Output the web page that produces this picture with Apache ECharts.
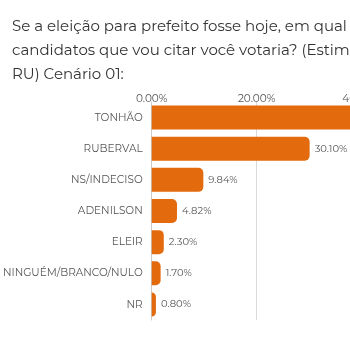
<!DOCTYPE html>
<html>
<head>
<meta charset="utf-8">
<script src="https://cdn.jsdelivr.net/npm/echarts@6/dist/echarts.min.js"></script>
<style>
  html, body { margin: 0; padding: 0; width: 350px; height: 350px; overflow: hidden; background: #fff; }
  #chart { width: 700px; height: 350px; }
</style>
</head>
<body>
<div id="chart"></div>
<script>
// Poll results, scenario 01 (percent)
const categories = ['TONHÃO', 'RUBERVAL', 'NS/INDECISO', 'ADENILSON', 'ELEIR', 'NINGUÉM/BRANCO/NULO', 'NR'];
const values = [50.44, 30.10, 9.84, 4.82, 2.30, 1.70, 0.80];
const titleLines = [
  'Se a eleição para prefeito fosse hoje, em qual destes',
  'candidatos que vou citar você votaria? (Estimulada -',
  'RU) Cenário 01:'
];

const chart = echarts.init(document.getElementById('chart'), null, { renderer: 'canvas' });
const font = 'Montserrat, "Noto Sans", "Open Sans", sans-serif';

chart.setOption({
  animation: false,
  textStyle: { fontFamily: font },
  title: {
    text: titleLines.join('\n'),
    left: 7,
    top: 10,
    textStyle: { fontSize: 15, fontWeight: 'normal', color: '#333', lineHeight: 24, fontFamily: font }
  },
  grid: { left: 147, top: 102, width: 319.5, height: 218, containLabel: false },
  xAxis: {
    type: 'value',
    position: 'top',
    min: 0,
    max: 60,
    interval: 20,
    axisLine: { show: false },
    axisTick: { show: false },
    axisLabel: { color: '#555', fontSize: 10.5, margin: -2, formatter: v => v.toFixed(2) + '%' },
    splitLine: { lineStyle: { color: '#d9d9d9', width: 1 } }
  },
  yAxis: {
    type: 'category',
    inverse: true,
    data: categories,
    axisLine: { show: true, lineStyle: { color: '#cccccc', width: 1 } },
    axisTick: { show: false },
    axisLabel: { color: '#555', fontSize: 10.5, margin: 9 }
  },
  series: [{
    type: 'bar',
    data: values,
    barCategoryGap: '23%',
    itemStyle: { color: '#E36A0D', borderRadius: [0, 5, 5, 0] },
    label: {
      show: true,
      position: 'right',
      distance: 5,
      color: '#555',
      fontSize: 10,
      formatter: p => p.value.toFixed(2) + '%'
    }
  }]
});
</script>
</body>
</html>
